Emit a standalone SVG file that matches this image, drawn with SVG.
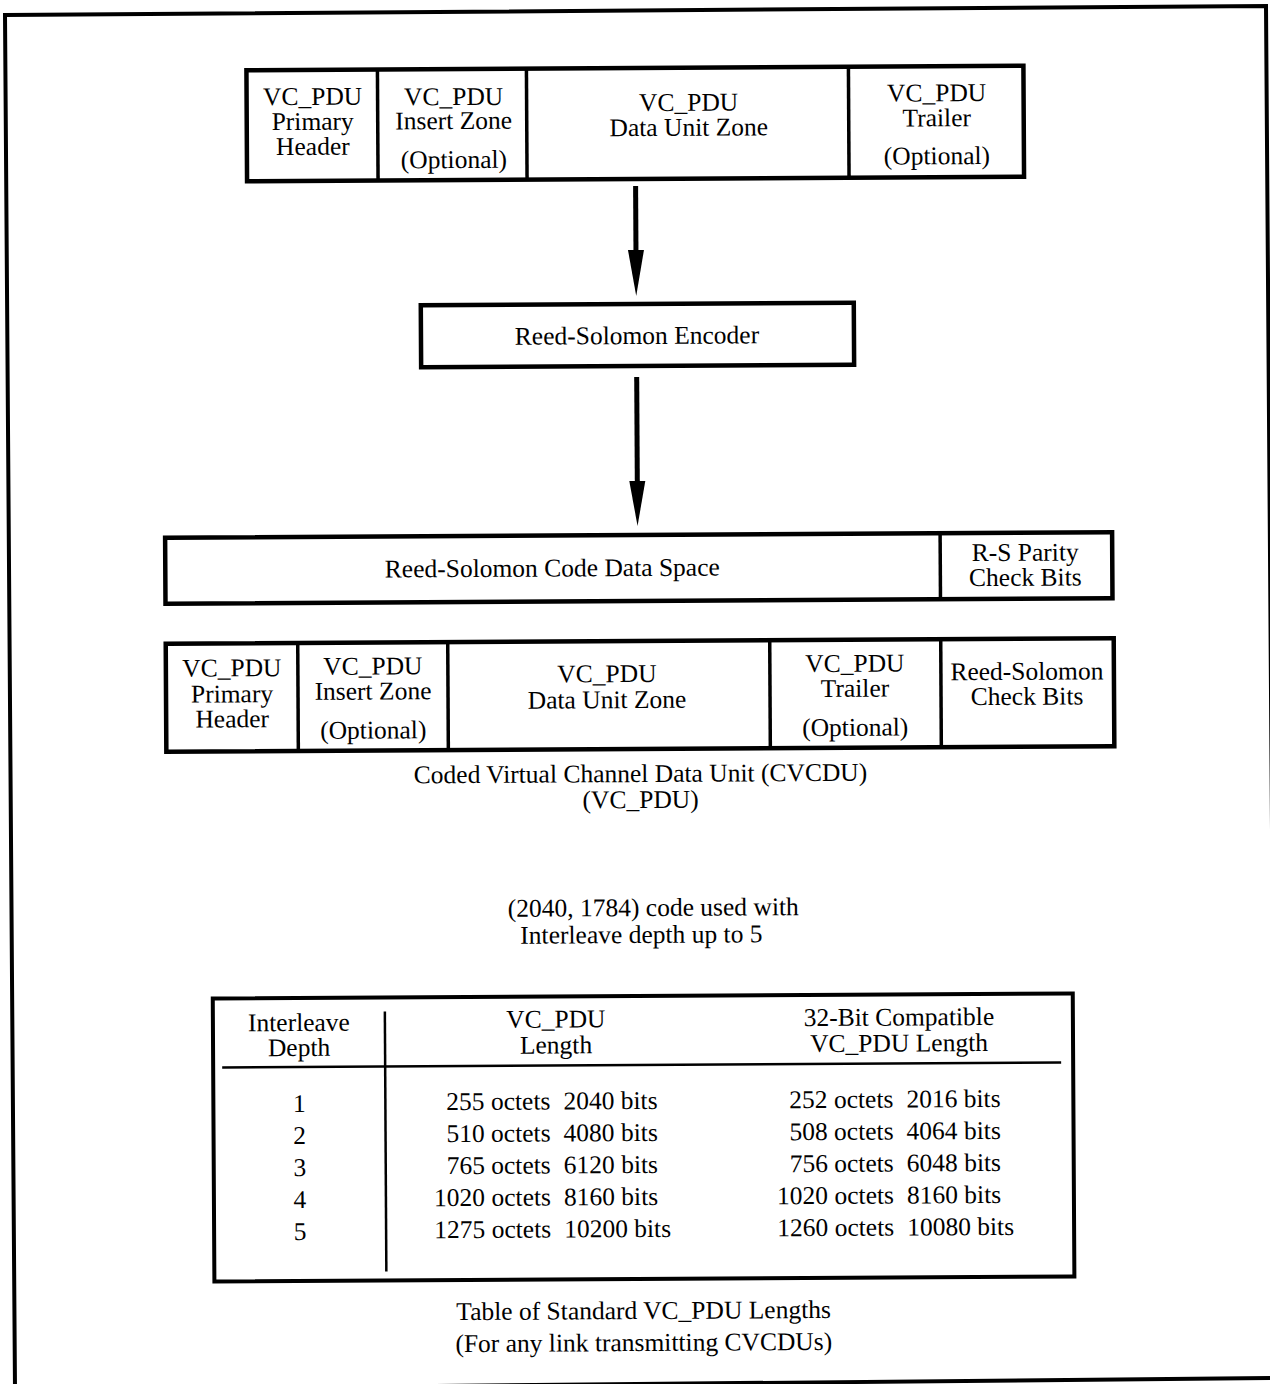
<svg xmlns="http://www.w3.org/2000/svg" width="1270" height="1384" viewBox="0 0 1270 1384">
  <style>
    text { font-family: "Liberation Serif", "Times New Roman", serif; font-size: 25.5px; fill: #000; text-anchor: middle; }
    .box { fill: #fff; stroke: #000; stroke-width: 4.5; }
    .div { stroke: #000; stroke-width: 3.5; }
    .rule { stroke: #000; stroke-width: 2.5; }
    .conn { stroke: #000; stroke-width: 5; fill: none; }
    .head { fill: #000; }
    .r { text-anchor: end; }
    .l { text-anchor: start; }
  </style>
  <rect width="1270" height="1384" fill="#fff"/>

  <!-- page frame -->
  <polygon points="5,15 1266,6 1276,1378 15,1390" fill="none" stroke="#000" stroke-width="4"/>

  <g transform="rotate(-0.33 640 690)">

    <!-- VC_PDU frame -->
    <g id="vcpdu">
      <rect class="box" x="250" y="68" width="777" height="111"/>
      <line class="div" x1="381" y1="68" x2="381" y2="179"/>
      <line class="div" x1="530" y1="68" x2="530" y2="179"/>
      <line class="div" x1="852" y1="68" x2="852" y2="179"/>
      <text x="316" y="103">VC_PDU</text>
      <text x="316" y="128">Primary</text>
      <text x="316" y="153">Header</text>
      <text x="457" y="104">VC_PDU</text>
      <text x="457" y="128">Insert Zone</text>
      <text x="457" y="167">(Optional)</text>
      <text x="692" y="111">VC_PDU</text>
      <text x="692" y="136">Data Unit Zone</text>
      <text x="940" y="103">VC_PDU</text>
      <text x="940" y="128">Trailer</text>
      <text x="940" y="166">(Optional)</text>
    </g>

    <!-- encoder -->
    <g id="encoder">
      <rect class="box" x="423" y="304" width="433" height="62"/>
      <text x="639" y="344">Reed-Solomon Encoder</text>
    </g>

    <!-- code block layout -->
    <g id="codespace">
      <rect class="box" x="166" y="535" width="947" height="66"/>
      <line class="div" x1="941" y1="535" x2="941" y2="601"/>
      <text x="553" y="576">Reed-Solomon Code Data Space</text>
      <text x="1026" y="563">R-S Parity</text>
      <text x="1026" y="588">Check Bits</text>
    </g>

    <!-- coded virtual channel data unit -->
    <g id="cvcdu">
      <rect class="box" x="166" y="641" width="948" height="108"/>
      <line class="div" x1="298" y1="641" x2="298" y2="749"/>
      <line class="div" x1="448" y1="641" x2="448" y2="749"/>
      <line class="div" x1="770" y1="641" x2="770" y2="749"/>
      <line class="div" x1="941" y1="641" x2="941" y2="749"/>
      <text x="232" y="674">VC_PDU</text>
      <text x="232" y="700">Primary</text>
      <text x="232" y="725">Header</text>
      <text x="373" y="673">VC_PDU</text>
      <text x="373" y="698">Insert Zone</text>
      <text x="373" y="737">(Optional)</text>
      <text x="607" y="682">VC_PDU</text>
      <text x="607" y="708">Data Unit Zone</text>
      <text x="855" y="673">VC_PDU</text>
      <text x="855" y="698">Trailer</text>
      <text x="855" y="737">(Optional)</text>
      <text x="1027" y="682">Reed-Solomon</text>
      <text x="1027" y="707">Check Bits</text>
    </g>

    <g id="cvcdu-caption">
      <text x="640" y="782">Coded Virtual Channel Data Unit (CVCDU)</text>
      <text x="640" y="808">(VC_PDU)</text>
    </g>

    <g id="code-note">
      <text x="652" y="916">(2040, 1784) code used with</text>
      <text x="640" y="943">Interleave depth up to 5</text>
    </g>

    <!-- table of lengths -->
    <g id="length-table">
      <rect x="211" y="996" width="860" height="283" fill="#fff" stroke="#000" stroke-width="4"/>
      <line class="rule" x1="383" y1="1010" x2="383" y2="1270"/>
      <line class="rule" x1="220" y1="1065" x2="1059" y2="1065"/>
      <text x="297" y="1029">Interleave</text>
      <text x="297" y="1054">Depth</text>
      <text x="554" y="1027">VC_PDU</text>
      <text x="554" y="1053">Length</text>
      <text x="897" y="1027">32-Bit Compatible</text>
      <text x="897" y="1053">VC_PDU Length</text>

      <text x="297" y="1110">1</text>
      <text x="297" y="1142">2</text>
      <text x="297" y="1174">3</text>
      <text x="297" y="1206">4</text>
      <text x="297" y="1238">5</text>

      <text class="r" x="548" y="1109">255 octets</text>
      <text class="r" x="548" y="1141">510 octets</text>
      <text class="r" x="548" y="1173">765 octets</text>
      <text class="r" x="548" y="1205">1020 octets</text>
      <text class="r" x="548" y="1237">1275 octets</text>
      <text class="l" x="561" y="1109">2040 bits</text>
      <text class="l" x="561" y="1141">4080 bits</text>
      <text class="l" x="561" y="1173">6120 bits</text>
      <text class="l" x="561" y="1205">8160 bits</text>
      <text class="l" x="561" y="1237">10200 bits</text>

      <text class="r" x="891" y="1109">252 octets</text>
      <text class="r" x="891" y="1141">508 octets</text>
      <text class="r" x="891" y="1173">756 octets</text>
      <text class="r" x="891" y="1205">1020 octets</text>
      <text class="r" x="891" y="1237">1260 octets</text>
      <text class="l" x="904" y="1109">2016 bits</text>
      <text class="l" x="904" y="1141">4064 bits</text>
      <text class="l" x="904" y="1173">6048 bits</text>
      <text class="l" x="904" y="1205">8160 bits</text>
      <text class="l" x="904" y="1237">10080 bits</text>
    </g>

    <g id="table-caption">
      <text x="640" y="1319">Table of Standard VC_PDU Lengths</text>
      <text x="640" y="1351">(For any link transmitting CVCDUs)</text>
    </g>

    <!-- connectors -->
    <g id="connectors">
      <line class="conn" x1="638.5" y1="186" x2="638.5" y2="252"/>
      <polygon class="head" points="630.5,250 646.5,250 638.5,296"/>
      <line class="conn" x1="638.5" y1="377" x2="638.5" y2="483"/>
      <polygon class="head" points="630.5,481 646.5,481 638.5,526"/>
    </g>
  </g>
</svg>
